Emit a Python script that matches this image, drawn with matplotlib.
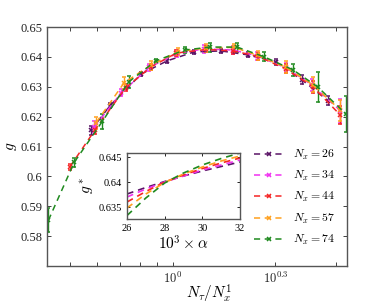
import numpy as np
import matplotlib.pyplot as plt
from matplotlib.lines import Line2D

plt.rcParams["font.family"] = "Liberation Serif"
plt.rcParams["mathtext.fontset"] = "cm"

labels = ["$N_x = 26$", "$N_x = 34$", "$N_x = 44$", "$N_x = 57$", "$N_x = 74$"]
colors = ["#5a1466", "#f032f0", "#f52525", "#ffa01e", "#1f8a1f"]

# main panel: N_tau / N_x, g, error
x26 = [0.577, 0.654, 0.808, 0.962, 1.154, 1.385, 1.654, 2.0, 2.385, 2.846]
g26 = [0.6155, 0.6237, 0.6343, 0.6387, 0.6417, 0.6420, 0.6407, 0.6383, 0.6323, 0.6253]
e26 = [0.0015, 0.0008, 0.0008, 0.0008, 0.0007, 0.0007, 0.0008, 0.0010, 0.0015, 0.0015]

x34 = [0.588, 0.706, 0.853, 1.029, 1.235, 1.5, 1.765, 2.147, 2.559, 3.088]
g34 = [0.6165, 0.6280, 0.6365, 0.6412, 0.6427, 0.6423, 0.6403, 0.6363, 0.6305, 0.6220]
e34 = [0.0020, 0.0012, 0.0012, 0.0012, 0.0013, 0.0012, 0.0012, 0.0015, 0.0020, 0.0040]

x44 = [0.5, 0.591, 0.727, 0.864, 1.023, 1.25, 1.5, 1.773, 2.136, 2.568, 3.09]
g44 = [0.6033, 0.6155, 0.6297, 0.6367, 0.6413, 0.6425, 0.6420, 0.6402, 0.6360, 0.6300, 0.6205]
e44 = [0.0010, 0.0012, 0.0012, 0.0010, 0.0010, 0.0010, 0.0010, 0.0012, 0.0015, 0.0020, 0.0030]

x57 = [0.596, 0.719, 0.86, 1.035, 1.246, 1.509, 1.772, 2.14, 2.561, 3.088]
g57 = [0.6180, 0.6313, 0.6372, 0.6418, 0.6430, 0.6432, 0.6405, 0.6365, 0.6307, 0.6222]
e57 = [0.0020, 0.0020, 0.0015, 0.0012, 0.0012, 0.0012, 0.0015, 0.0020, 0.0025, 0.0035]

x74 = [0.432, 0.514, 0.622, 0.743, 0.892, 1.081, 1.284, 1.54, 1.851, 2.243, 2.649, 3.2]
g74 = [0.5853, 0.6047, 0.6185, 0.6317, 0.6387, 0.6423, 0.6433, 0.6433, 0.6400, 0.6357, 0.6300, 0.6210]
e74 = [0.0040, 0.0015, 0.0025, 0.0020, 0.0007, 0.0010, 0.0015, 0.0015, 0.0015, 0.0020, 0.0050, 0.0060]

# inset: 10^3 alpha vs g*
alpha = [26, 27, 28, 29, 30, 31, 32]
gs26 = [0.6376, 0.6389, 0.6401, 0.6412, 0.6422, 0.6431, 0.6440]
gs34 = [0.6370, 0.6386, 0.6400, 0.6412, 0.6424, 0.6434, 0.6444]
gs44 = [0.6360, 0.6381, 0.6400, 0.6414, 0.6427, 0.6438, 0.6448]
gs57 = [0.6348, 0.6376, 0.6399, 0.6416, 0.6430, 0.6442, 0.6452]
gs74 = [0.6333, 0.6368, 0.6398, 0.6418, 0.6434, 0.6447, 0.6458]

xs = [x26, x34, x44, x57, x74]
gs = [g26, g34, g44, g57, g74]
es = [e26, e34, e44, e57, e74]
gstar = [gs26, gs34, gs44, gs57, gs74]

dash = (0, (4, 3))

fig = plt.figure(figsize=(3.74, 3.04), dpi=100)
ax = fig.add_axes([0.1257, 0.125, 0.8021, 0.786])

for x, g, e, c in zip(xs, gs, es, colors):
    ax.errorbar(x, g, yerr=e, color=c, linestyle=dash, linewidth=1.1,
                marker="x", markersize=3, markeredgewidth=1.1,
                capsize=1.5, elinewidth=1.0)

ax.set_xscale("log")
ax.set_xlim(0.428, 3.23)
ax.set_ylim(0.57, 0.65)
ax.set_xticks([1.0, 10 ** 0.3])
ax.set_xticklabels(["$10^{0}$", "$10^{0.3}$"])
ax.set_xticks([0.5, 0.6, 0.7, 0.8, 0.9, 3.0], minor=True)
ax.xaxis.set_minor_formatter(plt.NullFormatter())
ax.set_yticks([0.58, 0.59, 0.6, 0.61, 0.62, 0.63, 0.64, 0.65])
ax.set_yticklabels(["0.58", "0.59", "0.6", "0.61", "0.62", "0.63", "0.64", "0.65"])
ax.tick_params(which="both", direction="in", top=True, right=True,
               labelsize=9, colors="#222222", length=3, width=0.6)
for s in ax.spines.values():
    s.set_color("#555555")
    s.set_linewidth(1.0)
ax.set_ylabel("$g$", fontsize=11, labelpad=1)
ax.set_xlabel(r"$N_\tau/N_x^1$", fontsize=11, labelpad=2)
ax.xaxis.set_label_coords(0.54, -0.07)

handles = [Line2D([], [], color=c, linestyle=dash, linewidth=1.1, marker="x",
                  markersize=3, markeredgewidth=1.1) for c in colors]
ax.legend(handles, labels, loc="lower right", bbox_to_anchor=(0.995, 0.035),
          frameon=False, fontsize=8.5, handlelength=2.6, labelspacing=0.62,
          handletextpad=0.7)

ins = fig.add_axes([0.3396, 0.2796, 0.3021, 0.2171])
for a, c in zip(gstar, colors):
    ins.plot(alpha, a, color=c, linestyle=dash, linewidth=1.2)
ins.set_xlim(26, 32)
ins.set_ylim(0.6326, 0.6458)
ins.set_xticks([26, 28, 30, 32])
ins.set_yticks([0.635, 0.64, 0.645])
ins.set_yticklabels(["0.635", "0.64", "0.645"])
ins.tick_params(direction="in", top=True, right=True, labelsize=7.5,
                length=2.5, width=0.6)
for s in ins.spines.values():
    s.set_color("#555555")
    s.set_linewidth(1.0)
ins.set_ylabel("$g^*$", fontsize=11, labelpad=2)
ins.set_xlabel(r"$10^3\times\alpha$", fontsize=11, labelpad=1)

fig.savefig("out.png", dpi=100)
